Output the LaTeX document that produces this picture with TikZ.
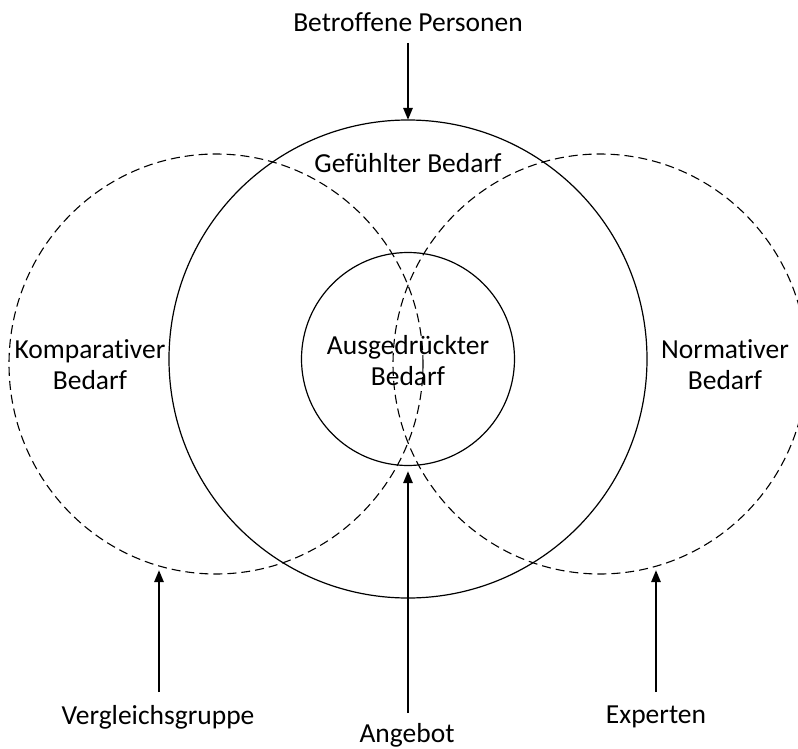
\documentclass[tikz,border=0pt]{standalone}
\usepackage{fontspec}
\setmainfont{Carlito}[Ligatures=NoCommon]
\usetikzlibrary{arrows.meta,shapes.geometric}
\begin{document}
\begin{tikzpicture}[x=1pt,y=-1pt,
  solidc/.style={draw,line width=1.2pt,circle,inner sep=0pt,outer sep=0pt},
  dashc/.style={draw,line width=1.1pt,ellipse,inner sep=0pt,outer sep=0pt,dash pattern=on 9pt off 5pt},
  lbl/.style={font=\fontsize{27.5}{31}\selectfont,align=center,inner sep=0pt},
  arr/.style={line width=2.5pt,-{Triangle[length=12pt,width=9pt]}}]
\useasboundingbox (0,0) rectangle (798,749);
\node[dashc,minimum width=414pt,minimum height=420pt] (le) at (216,364) {};
\node[dashc,minimum width=414pt,minimum height=420pt] (re) at (600,364) {};
\node[solidc,minimum size=478pt] (big) at (408,359) {};
\node[solidc,minimum size=213pt] (inner) at (408,359) {};
\node[lbl] (bp) at (408,22) {Betroffene Personen};
\node[lbl] (gb) at (408,163) {Gefühlter Bedarf};
\node[lbl] (ab) at (408,361) {Ausgedrückter\\Bedarf};
\node[lbl] (kb) at (90,365) {Komparativer\\Bedarf};
\node[lbl] (nb) at (725,365) {Normativer\\Bedarf};
\node[lbl] (vg) at (158,717) {Vergleichsgruppe};
\node[lbl] (an) at (407,735) {Angebot};
\node[lbl] (ex) at (656,717) {Experten};
\coordinate (bpt) at (408,43);
\coordinate (ant) at (408,713);
\coordinate (innertip) at (408,471);
\coordinate (vgt) at (159,692);
\coordinate (vgtip) at (159,570);
\coordinate (ext) at (656,692);
\coordinate (extip) at (656,570);
\draw[arr] (bpt) -- (big.north);
\draw[arr] (ant) -- (innertip);
\draw[arr] (vgt) -- (vgtip);
\draw[arr] (ext) -- (extip);
\end{tikzpicture}
\end{document}
